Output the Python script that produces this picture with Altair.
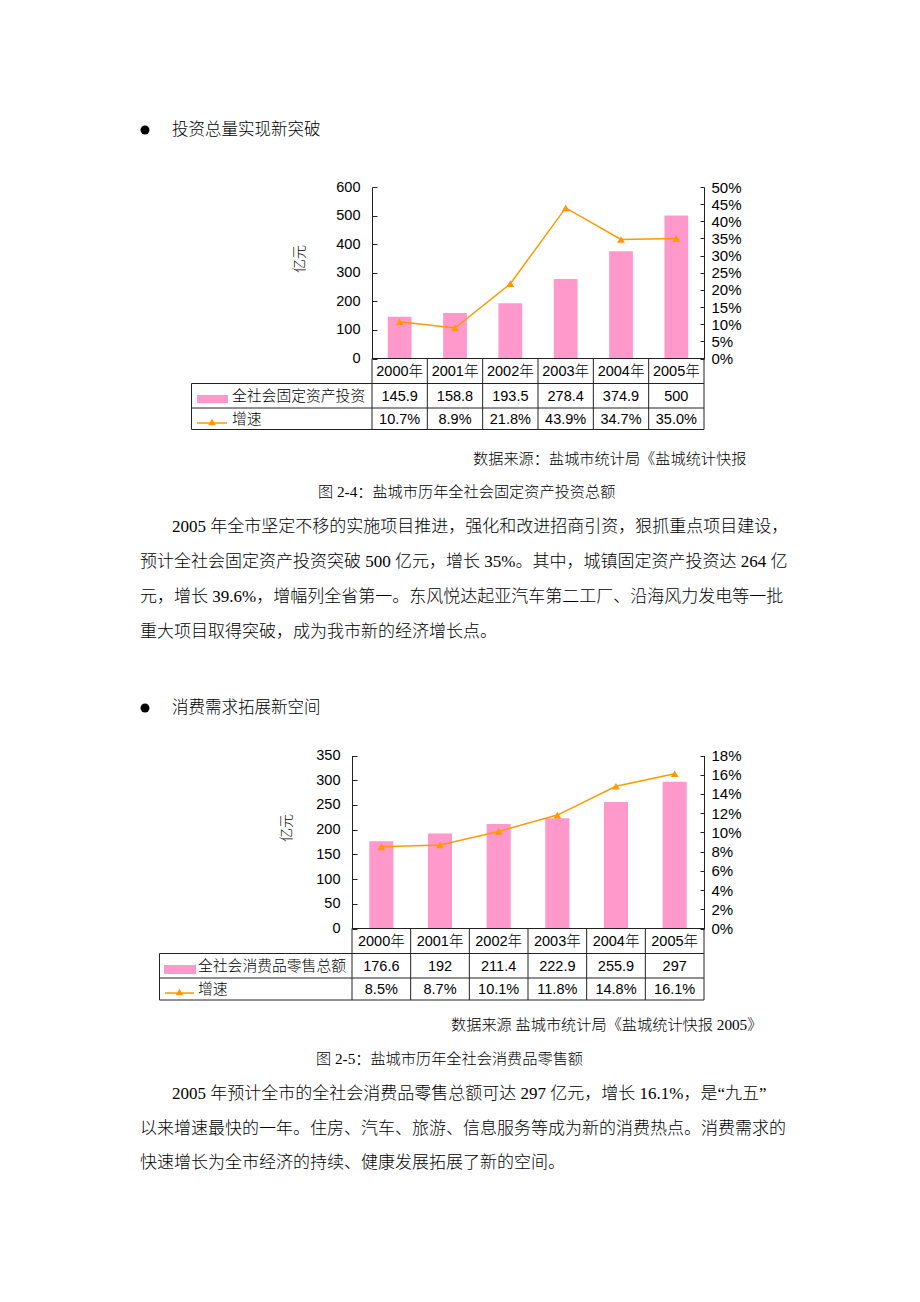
import altair as alt
import pandas as pd

# ---------------- data ----------------
years = ["2000", "2001", "2002", "2003", "2004", "2005"]
invest = [145.9, 158.8, 193.5, 278.4, 374.9, 500]
invest_growth = [10.7, 8.9, 21.8, 43.9, 34.7, 35.0]
retail = [176.6, 192, 211.4, 222.9, 255.9, 297]
retail_growth = [8.5, 8.7, 10.1, 11.8, 14.8, 16.1]

invest_label = "全社会固定资产投资"
retail_label = "全社会消费品零售总额"
growth_label = "增速"
unit_label = "亿元"

heading1 = "投资总量实现新突破"
heading2 = "消费需求拓展新空间"
source1 = "数据来源：盐城市统计局《盐城统计快报"
source2 = "数据来源 盐城市统计局《盐城统计快报 2005》"
caption1 = "图 2-4：盐城市历年全社会固定资产投资总额"
caption2 = "图 2-5：盐城市历年全社会消费品零售额"
para1 = [
    "2005 年全市坚定不移的实施项目推进，强化和改进招商引资，狠抓重点项目建设，",
    "预计全社会固定资产投资突破 500 亿元，增长 35%。其中，城镇固定资产投资达 264 亿",
    "元，增长 39.6%，增幅列全省第一。东风悦达起亚汽车第二工厂、沿海风力发电等一批",
    "重大项目取得突破，成为我市新的经济增长点。",
]
para2 = [
    "2005 年预计全市的全社会消费品零售总额可达 297 亿元，增长 16.1%，是“九五”",
    "以来增速最快的一年。住房、汽车、旅游、信息服务等成为新的消费热点。消费需求的",
    "快速增长为全市经济的持续、健康发展拓展了新的空间。",
]

# ---------------- styles / layout ----------------
W, H = 904, 1286
SANS = "Liberation Sans, Noto Sans CJK SC"
BODY = "Liberation Serif, Noto Sans CJK SC"
PINK = "#FF99CC"
ORANGE = "#FF9900"
LINE = "#222222"

layers = []


def text_layer(t, x, y, size, font=BODY, align="left", angle=None, weight=None):
    kw = dict(x=x, y=y, fontSize=size, font=font, align=align,
              baseline="middle", color="black")
    if angle is not None:
        kw["angle"] = angle
    if weight is not None:
        kw["fontWeight"] = weight
    return alt.Chart(pd.DataFrame({"t": [t]})).mark_text(**kw).encode(text="t:N")


def bullet(x, y):
    return alt.Chart(pd.DataFrame({"k": ["●"]})).mark_circle(
        size=80, color="black", opacity=1).encode(x=alt.value(x), y=alt.value(y))


def chart_block(values, growth, label, c):
    df = pd.DataFrame({
        "year": years,
        "v": values,
        "g": [g / 100 for g in growth],
        "ylab": [y + "年" for y in years],
    })
    xL, xR, yT, yB = c["xL"], c["xR"], c["yT"], c["yB"]
    pi = c["pad"]
    xband = alt.X("year:N", scale=alt.Scale(type="band", domain=years, range=[xL, xR],
                                            paddingInner=pi, paddingOuter=pi / 2), axis=None)
    xpoint = alt.X("year:N", scale=alt.Scale(type="point", domain=years, range=[xL, xR],
                                             padding=0.5), axis=None)
    vscale = alt.Scale(domain=[0, c["vmax"]], range=[yB, yT], nice=False, zero=True)
    gscale = alt.Scale(domain=[0, c["gmax"]], range=[yB, yT], nice=False, zero=True)
    vvals = list(range(0, c["vmax"] + 1, c["vstep"]))
    nsteps = int(round(c["gmax"] / c["gstep"]))
    gvals = [round(i * c["gstep"], 4) for i in range(nsteps + 1)]

    out = []
    # bars + left axis line/ticks (ticks pointing inward)
    out.append(alt.Chart(df).mark_bar(color=PINK).encode(
        x=xband,
        y=alt.Y("v:Q", scale=vscale, axis=alt.Axis(
            orient="right", offset=xL - W, values=vvals, labels=False, ticks=True,
            tickSize=5, domain=True, domainColor=LINE, tickColor=LINE, grid=False,
            title=None))))
    # left axis labels
    out.append(alt.Chart(df).mark_bar(opacity=0).encode(
        x=xband,
        y=alt.Y("v:Q", scale=vscale, axis=alt.Axis(
            orient="left", offset=-xL, values=vvals, labels=True, ticks=False,
            tickSize=0, domain=False, grid=False, labelPadding=12, labelFont=SANS,
            labelFontSize=14.5, labelColor="black", title=None))))
    # growth line + right axis line/ticks
    out.append(alt.Chart(df).mark_line(color=ORANGE, strokeWidth=1.5).encode(
        x=xpoint,
        y=alt.Y("g:Q", scale=gscale, axis=alt.Axis(
            orient="left", offset=-xR, values=gvals, labels=False, ticks=True,
            tickSize=4, domain=True, domainColor=LINE, tickColor=LINE, grid=False,
            title=None))))
    out.append(alt.Chart(df).mark_point(shape="triangle-up", size=60, filled=True,
                                        color=ORANGE, opacity=1).encode(
        x=xpoint, y=alt.Y("g:Q", scale=gscale, axis=None)))
    # right axis labels
    out.append(alt.Chart(df).mark_point(opacity=0).encode(
        x=xpoint,
        y=alt.Y("g:Q", scale=gscale, axis=alt.Axis(
            orient="right", offset=xR - W, values=gvals, labels=True, ticks=False,
            tickSize=0, domain=False, grid=False, labelPadding=7, format=".0%",
            labelFont=SANS, labelFontSize=15, labelColor="black", title=None))))

    # table
    r0, r1, r2, r3 = yB, c["r1"], c["r2"], c["r3"]
    tl = c["tl"]
    n = len(years)
    step = (xR - xL) / n
    segs = [
        (xL, r0, xR, r0),
        (tl, r1, xR, r1),
        (tl, r2, xR, r2),
        (tl, r3, xR, r3),
        (tl, r1, tl, r3),
    ]
    for i in range(n + 1):
        xx = xL + i * step
        segs.append((xx, r0, xx, r3))
    sdf = pd.DataFrame(segs, columns=["x", "y", "x2", "y2"])
    out.append(alt.Chart(sdf).mark_rule(color=LINE, strokeWidth=1).encode(
        x=alt.X("x:Q", scale=None, axis=None), y=alt.Y("y:Q", scale=None, axis=None),
        x2="x2:Q", y2="y2:Q"))

    out.append(alt.Chart(df).mark_text(font=SANS, fontSize=14.5, y=(r0 + r1) / 2 + 1,
                                       baseline="middle", color="black",
                                       fontWeight=300).encode(
        x=xpoint, text="ylab:N"))
    out.append(alt.Chart(df).mark_text(font=SANS, fontSize=14.5, y=(r1 + r2) / 2 + 1,
                                       baseline="middle", color="black").encode(
        x=xpoint, text=alt.Text("v:Q", format=".1~f")))
    out.append(alt.Chart(df).mark_text(font=SANS, fontSize=14.5, y=(r2 + r3) / 2 + 1,
                                       baseline="middle", color="black").encode(
        x=xpoint, text=alt.Text("g:Q", format=".1%")))

    # row labels + legend symbols
    out.append(text_layer(label, c["lx"], (r1 + r2) / 2 + 1, c["lfs"], font=SANS, weight=300))
    out.append(text_layer(growth_label, c["lx"], (r2 + r3) / 2 + 1, c["lfs"], font=SANS,
                          weight=300))
    sw = c["sw"]
    out.append(alt.Chart(pd.DataFrame({"k": [label]})).mark_rect(color=PINK).encode(
        x=alt.value(sw[0]), x2=alt.value(sw[1]), y=alt.value(sw[2]), y2=alt.value(sw[3])))
    lg = c["lg"]
    out.append(alt.Chart(pd.DataFrame({"k": [growth_label]})).mark_rule(
        color=ORANGE, strokeWidth=1.5).encode(
        x=alt.value(lg[0]), x2=alt.value(lg[1]), y=alt.value(lg[2])))
    out.append(alt.Chart(pd.DataFrame({"k": [growth_label]})).mark_point(
        shape="triangle-up", size=60, filled=True, color=ORANGE, opacity=1).encode(
        x=alt.value((lg[0] + lg[1]) / 2), y=alt.value(lg[2] - 1)))

    # unit title
    out.append(text_layer(unit_label, c["ut"][0], c["ut"][1], 14, font=SANS,
                          align="center", angle=270, weight=300))
    return out


c1 = dict(xL=364, xR=696, yT=179, yB=350.5, pad=0.57, vmax=600, vstep=100,
          gmax=0.5, gstep=0.05, r1=375.5, r2=400, r3=421.5, tl=183.5, lx=224, lfs=14.8,
          sw=(189, 220, 387, 395), lg=(189, 219, 415), ut=(292, 251))
c2 = dict(xL=344, xR=696, yT=747.5, yB=920.5, pad=0.59, vmax=350, vstep=50,
          gmax=0.18, gstep=0.02, r1=945.5, r2=970, r3=992, tl=151.5, lx=190, lfs=14.8,
          sw=(156, 188, 957, 966), lg=(157, 186, 985), ut=(279, 820))

# ---------------- page text ----------------
layers.append(bullet(137, 122))
layers.append(text_layer(heading1, 164, 122, 16.5, weight=300))
layers += chart_block(invest, invest_growth, invest_label, c1)
layers.append(text_layer(source1, 465, 451, 15.2, weight=300))
layers.append(text_layer(caption1, 310, 484, 15.2, weight=300))
for i, line in enumerate(para1):
    layers.append(text_layer(line, 164 if i == 0 else 132, 519 + 35 * i, 17, weight=300))

layers.append(bullet(137, 700))
layers.append(text_layer(heading2, 164, 700, 16.5, weight=300))
layers += chart_block(retail, retail_growth, retail_label, c2)
layers.append(text_layer(source2, 443, 1017, 15.2, weight=300))
layers.append(text_layer(caption2, 308, 1051, 15.2, weight=300))
for i, line in enumerate(para2):
    layers.append(text_layer(line, 164 if i == 0 else 132, 1086 + 34.5 * i, 17, weight=300))

chart = alt.layer(*layers).resolve_scale(x="independent", y="independent").properties(
    width=W, height=H, padding=0, autosize=alt.AutoSizeParams(type="none")
).configure_view(stroke=None)

chart.save("out.html", embed_options={"renderer": "svg", "actions": False})
